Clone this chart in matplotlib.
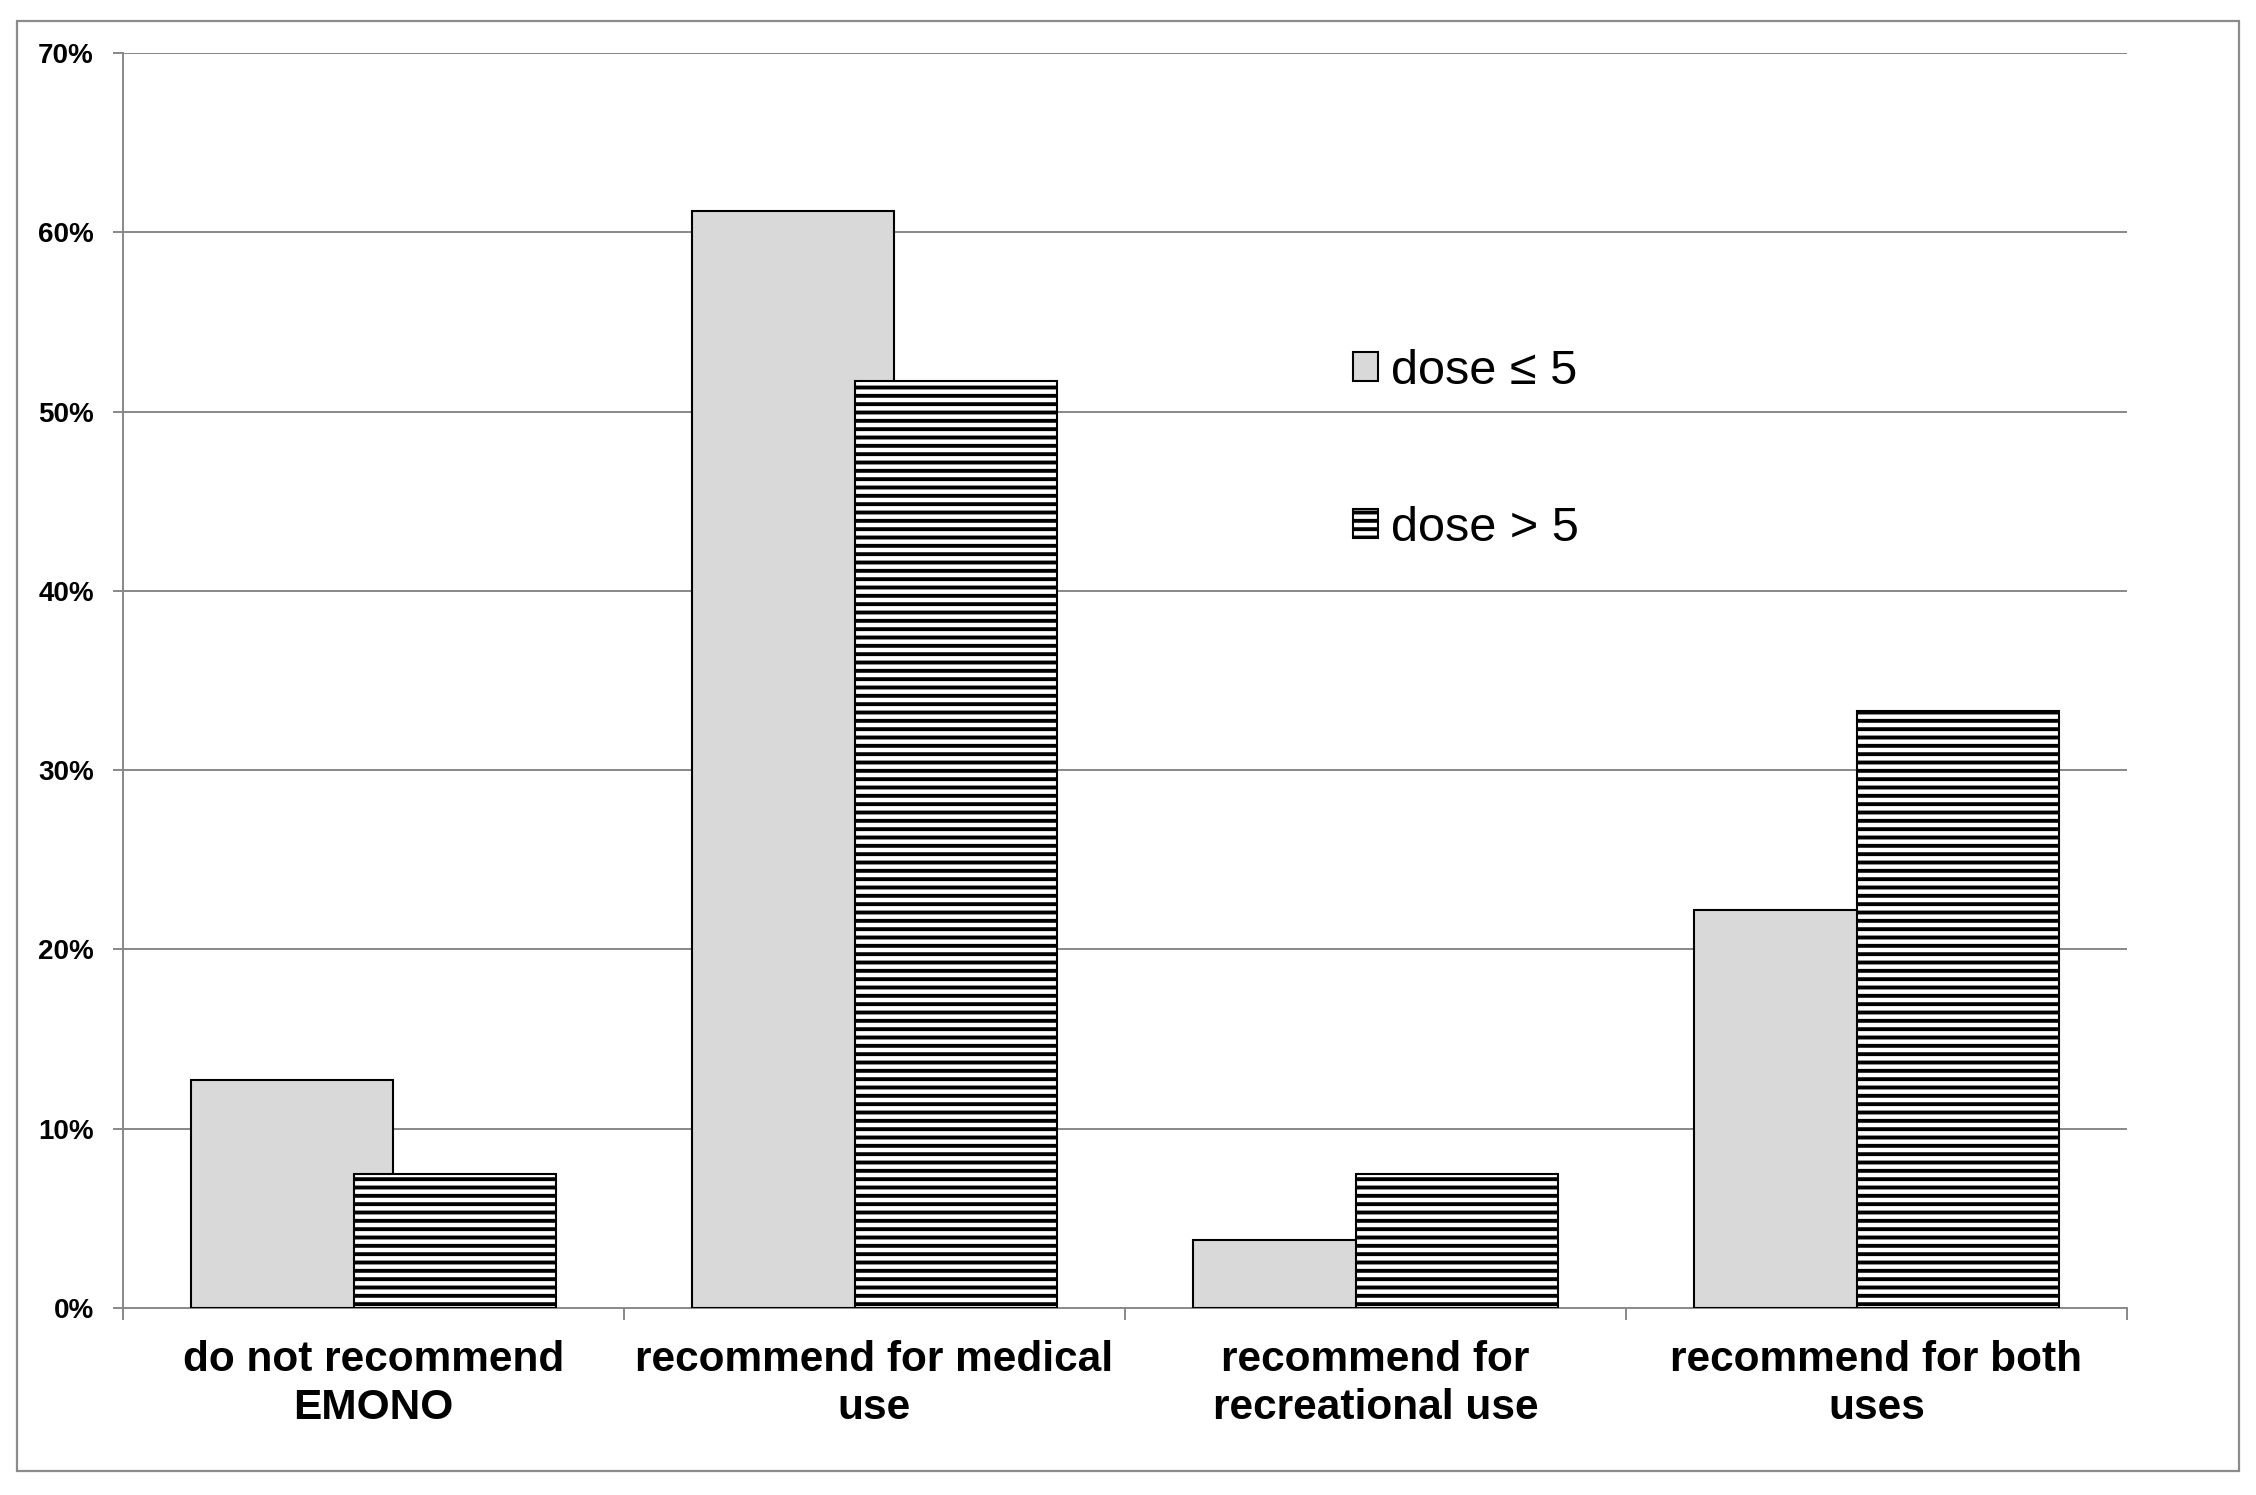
import matplotlib
matplotlib.use("Agg")
import matplotlib.pyplot as plt
from matplotlib.patches import Rectangle
import numpy as np

categories = ["do not recommend\nEMONO", "recommend for medical\nuse",
              "recommend for\nrecreational use", "recommend for both\nuses"]
low_dose = [12.7, 61.2, 3.8, 22.2]      # dose <= 5 (%)
high_dose = [7.5, 51.7, 7.5, 33.3]      # dose > 5 (%)
series_labels = ["dose \u2264 5", "dose > 5"]
yticks = [0, 10, 20, 30, 40, 50, 60, 70]

plt.rcParams['font.family'] = ['Liberation Sans', 'DejaVu Sans']
plt.rcParams['hatch.linewidth'] = 2.8

W, H = 2256, 1495
fig = plt.figure(figsize=(W / 100, H / 100), dpi=100)
fig.patch.set_facecolor('white')

ax = fig.add_axes([123 / W, 1 - 1308 / H, (2127 - 123) / W, (1308 - 53) / H])

grid_c = '#888888'
x = np.arange(len(categories))
bw = 0.403
off = 0.163

b1 = ax.bar(x - off, low_dose, width=bw, color='#d9d9d9', edgecolor='black',
            linewidth=1.5, zorder=3, label=series_labels[0])
b2 = ax.bar(x + off, high_dose, width=bw, color='white', edgecolor='black',
            linewidth=1.5, hatch='--', zorder=4, label=series_labels[1])

ax.set_xlim(-0.5, len(categories) - 0.5)
ax.set_ylim(0, 70)
ax.set_yticks(yticks)
ax.set_yticklabels([f"{v}%" for v in yticks], fontsize=20, fontweight='bold')
for v in yticks[1:]:
    ax.axhline(v, color=grid_c, linewidth=1.4, zorder=1)

ax.set_xticks(np.arange(-0.5, len(categories), 1.0))
ax.set_xticklabels([])
ax.set_xticks(x, minor=True)
ax.set_xticklabels(categories, minor=True, fontsize=30.5, fontweight='bold')
for t in ax.get_xticklabels(minor=True):
    t.set_linespacing(1.25)
ax.tick_params(axis='x', which='minor', length=0, pad=23)
ax.tick_params(axis='x', which='major', length=8.5, width=1.4, color=grid_c, direction='out')
ax.tick_params(axis='y', length=7, width=1.4, color=grid_c, direction='out', pad=14)

for s in ['top', 'right']:
    ax.spines[s].set_visible(False)
for s in ['left', 'bottom']:
    ax.spines[s].set_color(grid_c)
    ax.spines[s].set_linewidth(1.4)

leg = fig.legend(handles=[b1, b2], labels=series_labels, loc='upper left',
                 bbox_to_anchor=(1353 / W, 1 - 349 / H), frameon=False,
                 fontsize=35, handlelength=0.52, handleheight=0.55,
                 handletextpad=0.27, labelspacing=2.3, borderpad=0,
                 borderaxespad=0)

fig.patches.append(Rectangle((17 / W, 1 - 1471 / H), (2239 - 17) / W, (1471 - 21) / H,
                             transform=fig.transFigure, fill=False,
                             edgecolor='#8c8c8c', linewidth=1.6))

fig.savefig("out.png", dpi=100)
